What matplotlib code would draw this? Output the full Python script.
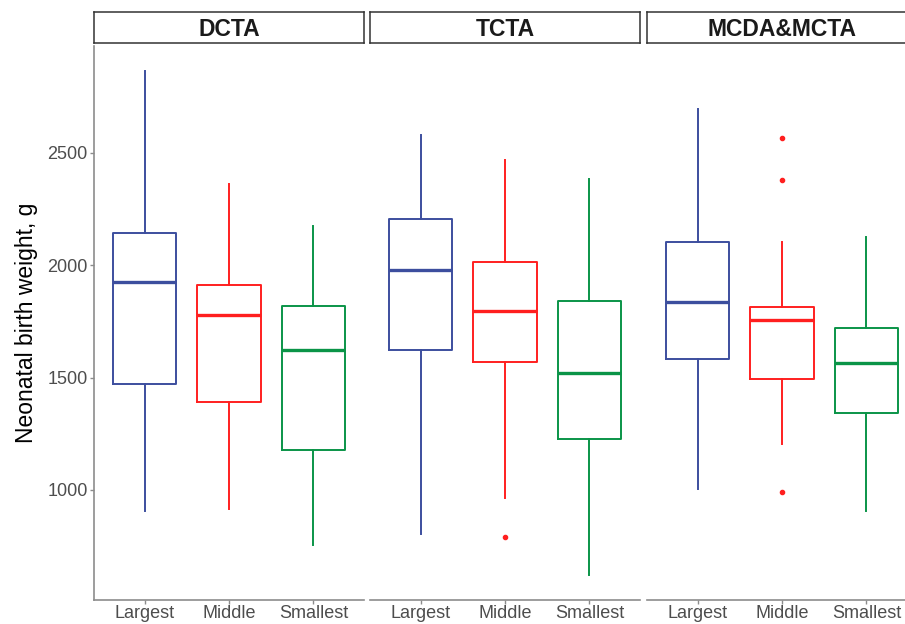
import matplotlib.pyplot as plt

plt.rcParams['font.family'] = ['Liberation Sans', 'DejaVu Sans']

# 分面和组别
panels = ['DCTA', 'TCTA', 'MCDA&MCTA']
groups = ['Largest', 'Middle', 'Smallest']
colors = ['#3C4E9E', '#FF1F1F', '#0A9447']

# 箱线图统计量
whis_lo = [[905, 913, 754], [803, 963, 622], [1004, 1205, 905]]
q1 = [[1471, 1393, 1178], [1622, 1569, 1225], [1584, 1494, 1344]]
median = [[1924, 1776, 1624], [1980, 1796, 1520], [1836, 1754, 1565]]
q3 = [[2144, 1911, 1820], [2206, 2013, 1839], [2105, 1815, 1722]]
whis_hi = [[2865, 2359, 2173], [2580, 2468, 2381], [2696, 2104, 2127]]
outliers = [[[], [], []], [[], [791], []], [[], [2566, 2379, 991], []]]

fig = plt.figure(figsize=(9.05, 6.24), dpi=100)

axis_gray = '#8C8C8C'
W = 905
H = 624
panel_left = [94, 370, 647]
panel_w = 270
top, bottom = 46, 600

for p, name in enumerate(panels):
    ax = fig.add_axes([panel_left[p] / W, 1 - bottom / H, panel_w / W, (bottom - top) / H])
    for g in range(3):
        c = colors[g]
        st = dict(med=median[p][g], q1=q1[p][g], q3=q3[p][g],
                  whislo=whis_lo[p][g], whishi=whis_hi[p][g],
                  fliers=outliers[p][g])
        ax.bxp([st], positions=[g + 1], widths=0.75, showcaps=False,
               boxprops=dict(color=c, linewidth=1.4),
               whiskerprops=dict(color=c, linewidth=1.4),
               medianprops=dict(color=c, linewidth=2.4),
               flierprops=dict(marker='o', markersize=3, markerfacecolor=c,
                               markeredgecolor=c))
    ax.set_xlim(0.4, 3.6)
    ax.set_ylim(510, 2975)
    ax.set_xticks([1, 2, 3])
    ax.set_xticklabels(groups)
    for s in ['top', 'right']:
        ax.spines[s].set_visible(False)
    ax.spines['bottom'].set_color(axis_gray)
    ax.spines['bottom'].set_linewidth(1.2)
    ax.tick_params(axis='x', colors=axis_gray, labelcolor='#4D4D4D',
                   labelsize=13, length=3, width=1, pad=0.5)
    if p == 0:
        ax.spines['left'].set_color(axis_gray)
        ax.spines['left'].set_linewidth(1.2)
        ax.set_yticks([1000, 1500, 2000, 2500])
        ax.tick_params(axis='y', colors=axis_gray, labelcolor='#4D4D4D',
                       labelsize=13, length=3, width=1, pad=1.5)
        ax.set_ylabel('Neonatal birth weight, g', fontsize=16.5, color='black', labelpad=7)
    else:
        ax.spines['left'].set_visible(False)
        ax.set_yticks([])

    # 分面标签
    sax = fig.add_axes([panel_left[p] / W, 1 - 43 / H, panel_w / W, 31 / H])
    sax.set_xticks([])
    sax.set_yticks([])
    for s in sax.spines.values():
        s.set_color('#333333')
        s.set_linewidth(1.1)
    sax.text(0.5, 0.45, name, ha='center', va='center', fontsize=16.5,
             fontweight='bold', color='#1A1A1A', transform=sax.transAxes)

fig.savefig('out.png', dpi=100)
